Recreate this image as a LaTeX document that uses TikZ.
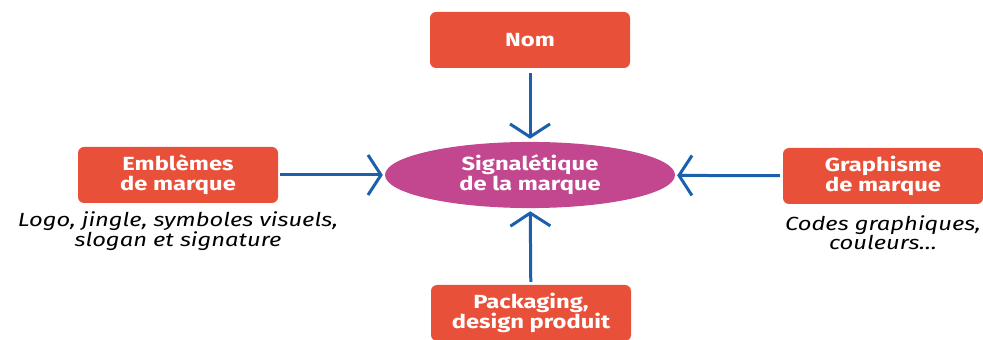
\documentclass[tikz,border=0pt]{standalone}
\usepackage{fontspec}
\setmainfont{Fira Sans}[FakeStretch=1.25]
\usepackage{tikz}
\usetikzlibrary{positioning, shapes.geometric, arrows.meta}

\definecolor{boxred}{HTML}{E9503A}
\definecolor{ovalpink}{HTML}{C2478F}
\definecolor{arrowblue}{HTML}{1A60AC}

\begin{document}
\begin{tikzpicture}[x=1pt, y=1pt,
		carre/.style={fill=boxred, rounded corners=6pt, minimum width=200pt, minimum height=56pt,
			text=white, font=\fontsize{19}{20}\selectfont\bfseries, align=center},
		ovale/.style={ellipse, fill=ovalpink, minimum width=290pt, minimum height=65pt,
			text=white, font=\fontsize{19}{20}\selectfont\bfseries, align=center},
		note/.style={font=\fontsize{19}{18}\selectfont\itshape, align=center},
		fleche/.style={arrowblue, line width=3pt, -{Straight Barb[length=13pt, width=40pt]}}]
		% cadre de l'image
		\useasboundingbox (0,0) rectangle (983,340);
		
		% ellipse centrale
		\node[ovale] (sig) at (530,165) {Signalétique\\de la marque};
		
		% les quatre blocs
		\node[carre] (nom)  at (530,300) {Nom};
		\node[carre] (emb)  at (178,165) {Emblèmes\\de marque};
		\node[carre] (gra)  at (883,164) {Graphisme\\de marque};
		\node[carre] (pack) at (531,27)  {Packaging,\\design produit};
		
		% textes en italique sous les blocs
		\node[note, below=5pt of emb] (embtxt) {Logo, jingle, symboles visuels,\\slogan et signature};
		\node[note, below=8pt of gra] (gratxt) {Codes graphiques,\\couleurs\dots};
		
		% fleches vers l'ellipse
		\draw[fleche, shorten <=5pt, shorten >=3pt] (nom) -- (sig);
		\draw[fleche, shorten <=2pt, shorten >=2pt] (emb) -- (sig);
		\draw[fleche, shorten <=3pt, shorten >=2pt] (gra) -- (sig);
		\draw[fleche, shorten <=3pt, shorten >=3pt] (pack) -- (sig);
	\end{tikzpicture}
\end{document}
